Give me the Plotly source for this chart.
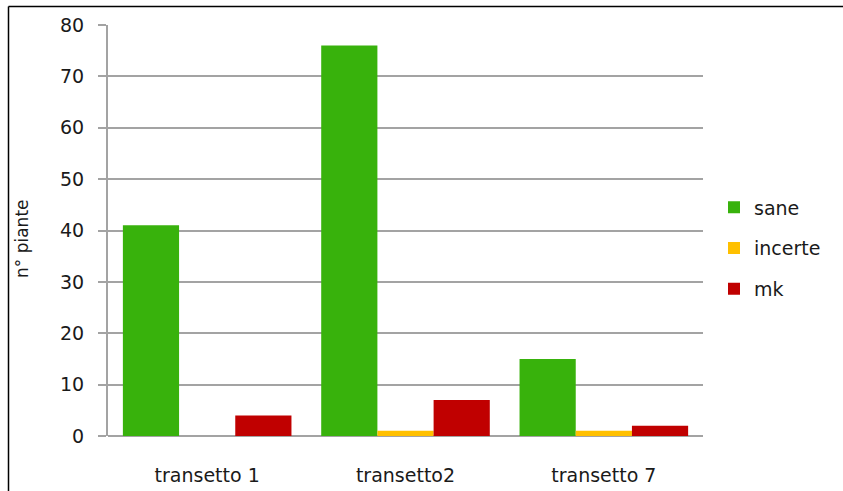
import plotly.graph_objects as go

categories = ["transetto 1", "transetto2", "transetto 7"]
sane = [41, 76, 15]
incerte = [0, 1, 1]
mk = [4, 7, 2]
y_ticks = [0, 10, 20, 30, 40, 50, 60, 70, 80]

font_family = "DejaVu Sans, Verdana, sans-serif"
text_color = "#1a1a1a"
grid_color = "#a3a3a3"

fig = go.Figure()
series = [("sane", sane, "#38B20C"), ("incerte", incerte, "#FFC000"), ("mk", mk, "#C00000")]
for name, vals, col in series:
    fig.add_trace(go.Bar(x=categories, y=vals, name=name, marker_color=col,
                         marker_line_width=0, legendgroup=name))

W, H = 843, 491
l, r, t, b = 108, 140, 25, 55
pw = W - l - r
ph = H - t - b


def px_x(p):
    return (p - l) / pw


def px_y(p):
    return (H - b - p) / ph


fig.update_layout(
    width=W, height=H,
    margin=dict(l=l, r=r, t=t, b=b, pad=0, autoexpand=False),
    paper_bgcolor="white", plot_bgcolor="white",
    barmode="group", bargap=0.15, bargroupgap=0,
    font=dict(family=font_family, size=19, color=text_color),
    showlegend=True,
    legend=dict(x=px_x(714), xanchor="left", y=px_y(248.5), yanchor="middle",
                traceorder="grouped", tracegroupgap=13,
                font=dict(family=font_family, size=19, color=text_color),
                bgcolor="rgba(0,0,0,0)"),
    xaxis=dict(showgrid=False, showline=False, ticks="", ticklabelstandoff=26,
               automargin=False, tickfont=dict(size=19)),
    yaxis=dict(range=[0, 80], tickvals=y_ticks, showgrid=True, gridcolor=grid_color, gridwidth=2,
               showline=True, linecolor=grid_color, linewidth=2,
               ticks="outside", ticklen=8, tickcolor=grid_color, tickwidth=2,
               ticklabelstandoff=10, zeroline=True, zerolinecolor=grid_color, zerolinewidth=2,
               automargin=False, tickfont=dict(size=19)),
    annotations=[dict(text="n° piante", xref="paper", yref="paper",
                      x=px_x(22), y=px_y(238), textangle=-90, showarrow=False,
                      xanchor="center", yanchor="middle",
                      font=dict(family=font_family, size=17, color=text_color))],
    shapes=[
        dict(type="line", xref="paper", yref="paper",
             x0=px_x(8.5), x1=px_x(8.5), y0=px_y(6.5), y1=px_y(H + 5),
             line=dict(color="black", width=1.5)),
        dict(type="line", xref="paper", yref="paper",
             x0=px_x(8.5), x1=px_x(W + 5), y0=px_y(6.5), y1=px_y(6.5),
             line=dict(color="black", width=1.5)),
    ],
)

fig.write_html("out.html")
